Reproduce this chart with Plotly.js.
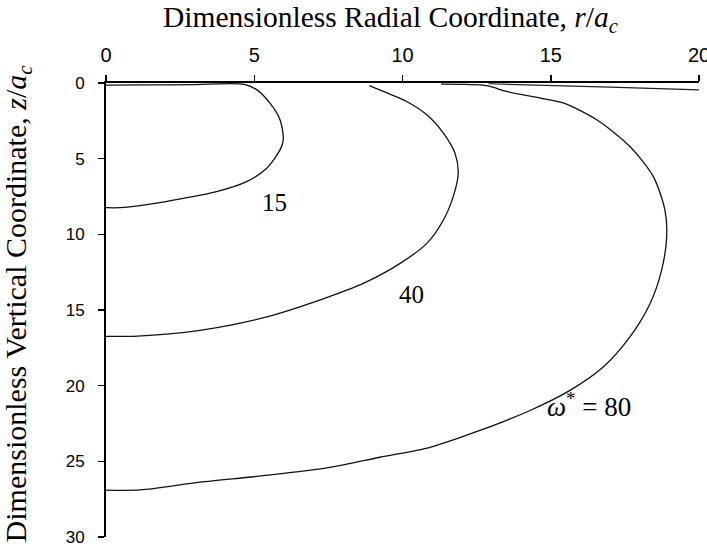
<!DOCTYPE html>
<html>
<head>
<meta charset="utf-8">
<script src="https://cdn.plot.ly/plotly-3.0.1.min.js"></script>
<style>
  html, body { margin: 0; padding: 0; background: #fff; }
  #plot { width: 707px; height: 550px; }
</style>
</head>
<body>
<div id="plot"></div>
<script>
// contour omega* = 15
var r15 = [0, 1.5, 2.9, 4.66, 5.08, 5.53, 5.87, 5.98, 5.87, 5.42, 4.74, 3.73, 2.61, 1.48, 0.47, 0];
var z15 = [0.14, 0.13, 0.11, 0.09, 0.44, 1.33, 2.43, 3.75, 4.42, 5.63, 6.52, 7.18, 7.62, 8.0, 8.24, 8.24];

// contour omega* = 40
var r40 = [8.88, 9.35, 10.14, 10.82, 11.38, 11.77, 11.88, 11.71, 11.38, 10.82, 9.92, 8.79, 7.67, 6.54, 5.42, 4.29, 3.17, 2.05, 0.92, 0];
var z40 = [0.18, 0.56, 1.22, 2.1, 3.31, 4.64, 5.96, 7.51, 9.05, 10.6, 11.92, 13.14, 14.02, 14.79, 15.46, 15.96, 16.34, 16.6, 16.74, 16.74];

// contour omega* = 80
var r80 = [11.3, 12.84, 13.51, 14.64, 15.42, 16.55, 17.67, 18.46, 18.85, 18.91, 18.74, 18.35, 17.67, 16.77, 15.65, 14.3, 12.61, 10.93, 9.24, 7.55, 5.3, 3.17, 1.15, 0];
var z80 = [0.08, 0.18, 0.56, 1.0, 1.32, 2.43, 4.2, 6.19, 8.39, 10.16, 12.36, 14.57, 16.78, 18.77, 20.31, 21.64, 22.96, 24.07, 24.73, 25.4, 25.95, 26.38, 26.89, 26.9];

// line along the surface at right
var rSurf = [12.9, 15, 17, 20];
var zSurf = [0.05, 0.15, 0.27, 0.45];

// ticks
var rTicks = [0, 5, 10, 15, 20];
var zTicks = [0, 5, 10, 15, 20, 25, 30];

// contour labels
var labelText = ['15', '40', '<i>ω</i><sup>*</sup>\u00a0=\u00a080'];
var labelR = [5.67, 10.32, 16.3];
var labelZ = [7.9, 14.0, 21.3];

var xTitle = 'Dimensionless Radial Coordinate, <i>r</i>/<i>a</i><sub><i>c</i></sub>';
var yTitle = 'Dimensionless Vertical Coordinate, <i>z</i>/<i>a</i><sub><i>c</i></sub>';

var serif = 'Liberation Serif, Times New Roman, serif';
var lineStyle = { color: '#111', width: 1.3, shape: 'spline', smoothing: 0.8 };

var data = [
    { x: r15, y: z15, type: 'scatter', mode: 'lines', line: lineStyle },
    { x: r40, y: z40, type: 'scatter', mode: 'lines', line: lineStyle },
    { x: r80, y: z80, type: 'scatter', mode: 'lines', line: lineStyle },
    { x: rSurf, y: zSurf, type: 'scatter', mode: 'lines', line: { color: '#222', width: 1.2 } }
];

var annotations = labelText.map(function (t, i) {
    return {
        x: labelR[i], y: labelZ[i], xref: 'x', yref: 'y',
        text: t, showarrow: false,
        font: { family: serif, size: i === 2 ? 27 : 25, color: '#000' }
    };
});

// axis titles placed as annotations so they sit where the original has them
annotations.push({
    xref: 'paper', yref: 'paper', x: 0.479, y: 1.14,
    xanchor: 'center', yanchor: 'middle', showarrow: false,
    text: xTitle, font: { family: serif, size: 29.5, color: '#000' }
});
annotations.push({
    xref: 'paper', yref: 'paper', x: -0.148, y: 0.515,
    xanchor: 'center', yanchor: 'middle', showarrow: false, textangle: -90,
    text: yTitle, font: { family: serif, size: 30, color: '#000' }
});

var layout = {
    width: 707,
    height: 550,
    paper_bgcolor: '#fff',
    plot_bgcolor: '#fff',
    showlegend: false,
    margin: { l: 106, r: 8, t: 83, b: 13 },
    font: { family: 'Liberation Sans, Arial, sans-serif', size: 17, color: '#000' },
    xaxis: {
        side: 'top',
        range: [0, 20],
        tickvals: rTicks,
        ticks: 'outside',
        ticklen: 6,
        tickwidth: 1.5,
        tickcolor: '#000',
        tickfont: { family: 'Liberation Sans, Arial, sans-serif', size: 20, color: '#000' },
        ticklabelstandoff: 5,
        ticklabeloverflow: 'allow',
        showline: true,
        linewidth: 2,
        linecolor: '#000',
        showgrid: false,
        zeroline: false
    },
    yaxis: {
        range: [30, 0],
        tickvals: zTicks,
        // long invisible major ticks push the labels out; the visible short ticks are minor ones
        ticks: 'outside',
        ticklen: 16,
        tickwidth: 1.5,
        tickcolor: 'rgba(0,0,0,0)',
        minor: {
            tickvals: zTicks,
            ticks: 'outside',
            ticklen: 6,
            tickwidth: 1.5,
            tickcolor: '#000',
            showgrid: false
        },
        tickfont: { family: 'Liberation Sans, Arial, sans-serif', size: 17, color: '#000' },
        showline: true,
        linewidth: 2,
        linecolor: '#000',
        showgrid: false,
        zeroline: false
    },
    annotations: annotations
};

Plotly.newPlot('plot', data, layout, { displayModeBar: false, staticPlot: true });
</script>
</body>
</html>
